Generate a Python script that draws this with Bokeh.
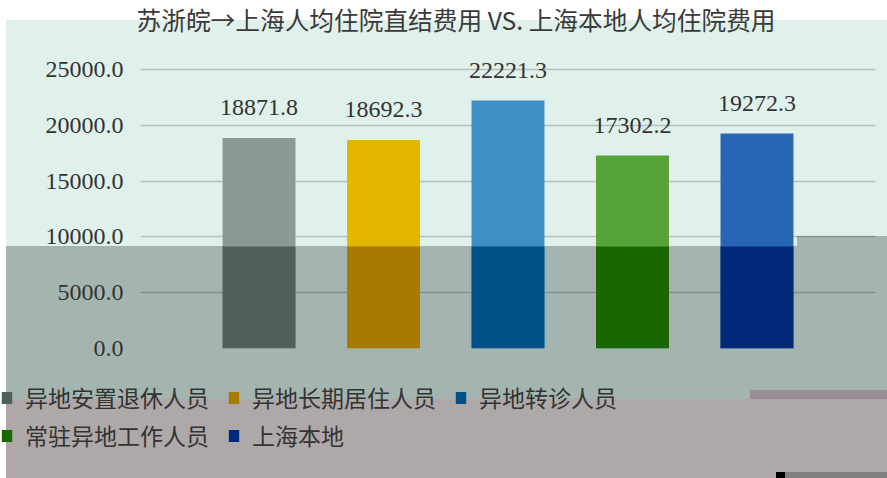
from bokeh.plotting import figure
from bokeh.layouts import column
from bokeh.models import (ColumnDataSource, Range1d, FixedTicker, NumeralTickFormatter, Legend,
                          LegendItem, Label)
from bokeh.embed import file_html
from bokeh.resources import INLINE
from bokeh.core.properties import value

# ---------------- data ----------------
TITLE = "苏浙皖→上海人均住院直结费用 VS. 上海本地人均住院费用"
CATEGORIES = ["异地安置退休人员", "异地长期居住人员", "异地转诊人员", "常驻异地工作人员", "上海本地"]
VALUES = [18871.8, 18692.3, 22221.3, 17302.2, 19272.3]
Y_TICKS = [0, 5000, 10000, 15000, 20000, 25000]

# ---------------- style ----------------
COLORS = ["#8a9a94", "#e3b700", "#3f8fc7", "#56a33a", "#2866b5"]
SHADED_COLORS = ["#4f5f59", "#a77b00", "#005088", "#1a6700", "#002a79"]
MINT = "#e0f1ec"
BAND = "#a4b5b0"
BOTTOM = "#aea8a8"

W = 887
Y0, Y1, Y2, Y3 = 0, 44, 370, 478       # page rows: title strip / chart / legend strip
H0, H1, H2 = Y1 - Y0, Y2 - Y1, Y3 - Y2
BORDER_L, BORDER_R = 140, 12
ZERO_PX = 348                          # page y of the value 0
BORDER_B = Y2 - ZERO_PX
FRAME_H = H1 - BORDER_B
PX_PER_UNIT = 279 / 25000.0
Y_END = FRAME_H / PX_PER_UNIT
MINT_TOP = 20
BAND_TOP_PX = 246                      # page y where the darker band begins
BOTTOM_TOP_PX = 399                    # page y where the bottom region begins
BAND_VALUE = (ZERO_PX - BAND_TOP_PX) / PX_PER_UNIT
X_PAD = 0.952
BAR_W = 0.586

xs = list(range(len(CATEGORIES)))
src = ColumnDataSource(dict(
    x=xs,
    value=VALUES,
    label=["%.1f" % v for v in VALUES],
    shaded_top=[min(v, BAND_VALUE) for v in VALUES],
    color=COLORS,
    shaded=SHADED_COLORS,
    category=CATEGORIES,
))


def strip(height):
    f = figure(width=W, height=height, output_backend="svg", toolbar_location=None,
               x_range=Range1d(0, 1), y_range=Range1d(0, 1),
               min_border_left=0, min_border_right=0, min_border_top=0, min_border_bottom=0)
    f.frame_align = False
    f.axis.visible = False
    f.grid.visible = False
    f.title.visible = False
    f.background_fill_alpha = 0
    f.border_fill_alpha = 0
    f.outline_line_color = None
    return f


# ---------------- title strip ----------------
t = strip(H0)
t.styles = {"background": ", ".join([
    "linear-gradient(#ffffff,#ffffff) 0px 0px / 6px %dpx no-repeat" % H0,
    "linear-gradient(to bottom, #ffffff 0px, #ffffff %dpx, %s %dpx, %s %dpx)"
    % (MINT_TOP, MINT, MINT_TOP, MINT, H0),
])}
t.add_layout(Label(x=136, y=H0 - 18, x_units="screen", y_units="screen", text=TITLE,
                   text_align="left", text_baseline="middle",
                   text_font="Noto Sans CJK SC", text_font_size="24.7px", text_color="#3a3a3a"))

# ---------------- main chart ----------------
p = figure(width=W, height=H1, output_backend="svg", toolbar_location=None,
           x_range=Range1d(-X_PAD, len(CATEGORIES) - 1 + X_PAD),
           y_range=Range1d(0, Y_END),
           min_border_left=BORDER_L, min_border_right=BORDER_R,
           min_border_top=0, min_border_bottom=BORDER_B)
p.frame_align = False
p.title.visible = False
p.background_fill_alpha = 0
p.border_fill_alpha = 0
p.outline_line_color = None

p.styles = {"background": ", ".join([
    "linear-gradient(#ffffff,#ffffff) 0px 0px / 6px %dpx no-repeat" % H1,
    "linear-gradient(%s,%s) 797px %dpx / 90px 10px no-repeat" % (BAND, BAND, 236 - Y1),
    "linear-gradient(to bottom, %s 0px, %s %dpx, %s %dpx, %s %dpx)"
    % (MINT, MINT, BAND_TOP_PX - Y1, BAND, BAND_TOP_PX - Y1, BAND, H1),
])}

p.vbar(x="x", top="value", width=BAR_W, fill_color="color", line_color=None, source=src)
p.vbar(x="x", top="shaded_top", width=BAR_W, fill_color="shaded", line_color=None, source=src)

p.text(x="x", y="value", text="label", source=src, text_align="center", text_baseline="alphabetic",
       y_offset=-30, text_font=value("Liberation Serif"), text_font_size="24px", text_color="#333333")

ticker = FixedTicker(ticks=Y_TICKS)
p.xaxis.visible = False
p.yaxis.ticker = ticker
p.yaxis.formatter = NumeralTickFormatter(format="0.0")
p.yaxis.axis_line_color = None
p.yaxis.major_tick_line_color = None
p.yaxis.minor_tick_line_color = None
p.yaxis.major_tick_out = 0
p.yaxis.major_tick_in = 0
p.yaxis.minor_tick_out = 0
p.yaxis.major_label_standoff = 17
p.yaxis.major_label_text_font = "Liberation Serif"
p.yaxis.major_label_text_font_size = "24px"
p.yaxis.major_label_text_color = "#333333"

p.xgrid.visible = False
p.ygrid.ticker = ticker
p.ygrid.grid_line_color = "#000000"
p.ygrid.grid_line_alpha = 0.2
p.ygrid.grid_line_width = 1.5

# ---------------- legend strip ----------------
q = strip(H2)
q.styles = {"background": ", ".join([
    "linear-gradient(#ffffff,#ffffff) 0px 0px / 6px %dpx no-repeat" % H2,
    "linear-gradient(#998c94,#998c94) 750px %dpx / 137px 9px no-repeat" % (390 - Y2),
    "linear-gradient(#000000,#000000) 776px %dpx / 9px 6px no-repeat" % (472 - Y2),
    "linear-gradient(#808080,#808080) 785px %dpx / 102px 6px no-repeat" % (472 - Y2),
    "linear-gradient(to bottom, %s 0px, %s %dpx, %s %dpx, %s %dpx)"
    % (BAND, BAND, BOTTOM_TOP_PX - Y2, BOTTOM, BOTTOM_TOP_PX - Y2, BOTTOM, H2),
])}

r_leg = q.vbar(x="x", top="shaded_top", width=BAR_W, fill_color="shaded", line_color=None,
               source=src, visible=False)
items = [LegendItem(label=c, renderers=[r_leg], index=i) for i, c in enumerate(CATEGORIES)]
legend = Legend(items=items, orientation="horizontal", ncols=3,
                location=(0, 26), click_policy="none",
                glyph_width=13, glyph_height=15, label_standoff=12, spacing=4,
                label_width=198, label_height=30,
                label_text_font="Noto Sans CJK SC", label_text_font_size="23px",
                label_text_color="#333333",
                padding=0, margin=0, border_line_color=None, background_fill_alpha=0,
                inactive_fill_alpha=0)
q.add_layout(legend, "center")

layout = column(t, p, q, spacing=0)
open("out.html", "w").write(file_html(layout, INLINE))
